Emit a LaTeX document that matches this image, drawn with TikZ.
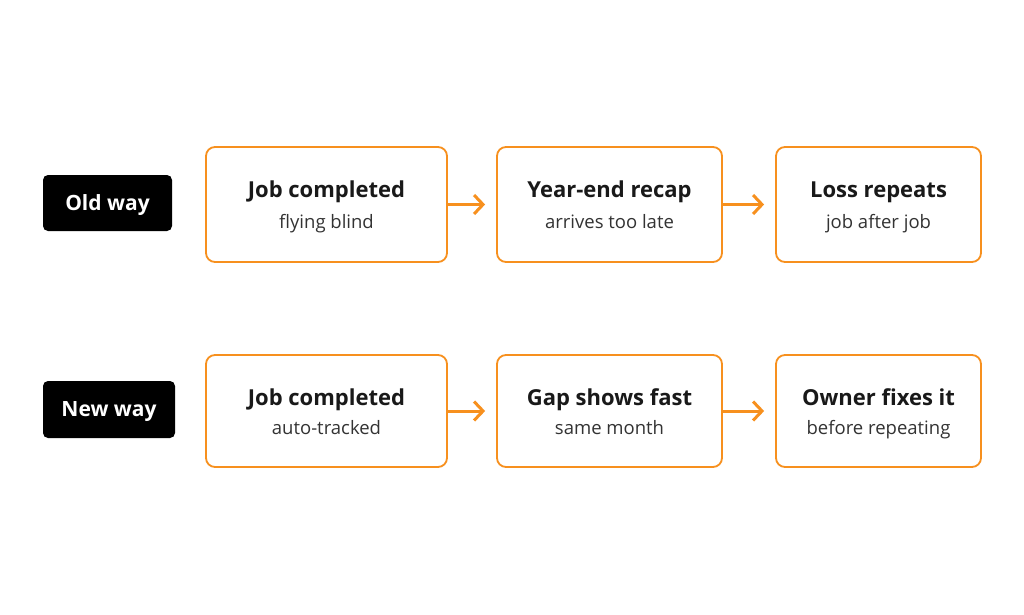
\documentclass[tikz,border=0pt]{standalone}
\usepackage{fontspec}
\setmainfont{Open Sans}
\usepackage{tikz}
\usetikzlibrary{arrows.meta}
\definecolor{flowOrange}{HTML}{F7901E}
\definecolor{subGray}{HTML}{333333}
\tikzset{
	stage/.style    = {draw=flowOrange, line width=1.8pt, rounded corners=9pt,
		fill=white, inner sep=0pt},
	title/.style    = {anchor=base, inner sep=0pt, text=black!90,
		font=\fontsize{22}{26}\selectfont\bfseries},
	sub/.style      = {anchor=base, inner sep=0pt, text=subGray,
		font=\fontsize{18.5}{22}\selectfont},
	tag/.style      = {fill=black, text=white, rounded corners=5pt,
		font=\fontsize{21}{24}\selectfont\bfseries, inner sep=0pt,
		text height=17.5pt, text depth=3pt},
	flow/.style     = {draw=flowOrange, line width=3pt,
		-{Straight Barb[length=9pt,width=19pt,line width=3pt]}, shorten >=11pt}
}

\begin{document}
\begin{tikzpicture}[x=1pt, y=-1pt]
	\useasboundingbox (0,0) rectangle (1024,614);
	\fill[white] (0,0) rectangle (1024,614);
	% old way
	\draw
	node at (107.5,203)[tag, minimum width=129pt, minimum height=56pt] (oldtag) {Old way}
	node at (326.5,204.5)[stage, minimum width=241pt, minimum height=115pt] (o1) {}
	node at (609.5,204.5)[stage, minimum width=225pt, minimum height=115pt] (o2) {}
	node at (878.5,204.5)[stage, minimum width=205pt, minimum height=115pt] (o3) {}
	node at (326.5,197.5)[title] (o1t) {Job completed}
	node at (326.5,228)[sub] (o1s) {flying blind}
	node at (609.5,197.5)[title] (o2t) {Year-end recap}
	node at (609.5,228)[sub] (o2s) {arrives too late}
	node at (878.5,197.5)[title] (o3t) {Loss repeats}
	node at (878.5,228)[sub] (o3s) {job after job}
	;
	\draw[flow] (o1) -- (o2);
	\draw[flow] (o2) -- (o3);
	
	% new way
	\draw
	node at (109,409.5)[tag, minimum width=132pt, minimum height=57pt] (newtag) {New way}
	node at (326.5,411)[stage, minimum width=241pt, minimum height=112pt] (n1) {}
	node at (609.5,411)[stage, minimum width=225pt, minimum height=112pt] (n2) {}
	node at (878.5,411)[stage, minimum width=205pt, minimum height=112pt] (n3) {}
	node at (326.5,405)[title] (n1t) {Job completed}
	node at (326.5,434.5)[sub] (n1s) {auto-tracked}
	node at (609.5,405)[title] (n2t) {Gap shows fast}
	node at (609.5,434.5)[sub] (n2s) {same month}
	node at (878.5,405)[title] (n3t) {Owner fixes it}
	node at (878.5,434.5)[sub] (n3s) {before repeating}
	;
	\draw[flow] (n1) -- (n2);
	\draw[flow] (n2) -- (n3);
\end{tikzpicture}
\end{document}
